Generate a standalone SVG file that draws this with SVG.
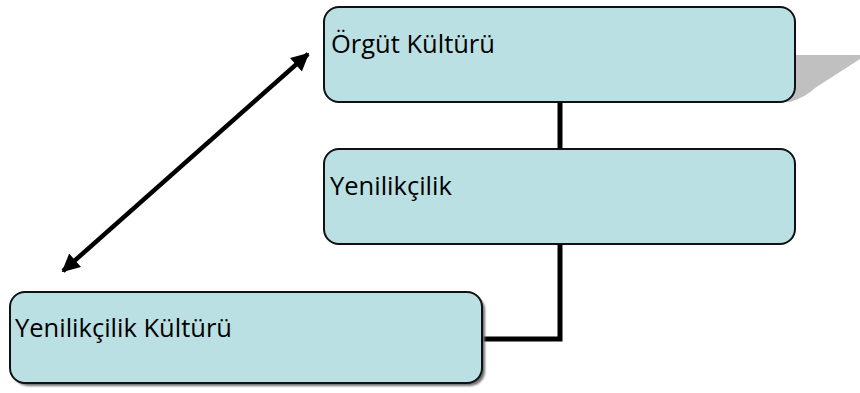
<svg xmlns="http://www.w3.org/2000/svg" width="860" height="393" viewBox="0 0 860 393">
<defs>
<style>
.box{fill:#BAE0E3;stroke:#111;stroke-width:2}
.lbl{font-family:"Open Sans","Noto Sans",sans-serif;font-size:25.5px;fill:#000}
.conn{fill:none;stroke:#000;stroke-width:5}
</style>
<marker id="ah" viewBox="0 0 10 10" refX="9" refY="5" markerWidth="4" markerHeight="4" orient="auto-start-reverse" markerUnits="strokeWidth">
<path d="M0,0 L10,5 L0,10 Z" fill="#000"/>
</marker>
<filter id="sh" x="-5%" y="-5%" width="115%" height="120%">
<feGaussianBlur stdDeviation="1"/>
</filter>
</defs>
<g id="connectors">
<polyline class="conn" points="560,102 560,149"/>
<polyline class="conn" points="560,244 560,339 482,339"/>
<line x1="63" y1="271" x2="308" y2="54" stroke="#000" stroke-width="4.5" marker-start="url(#ah)" marker-end="url(#ah)"/>
</g>
<g id="node-orgut">
<path d="M780,55 L860,55 L860,59 L815,88 Q806,97 790,102 L780,102 Z" fill="#C0C0C0"/>
<rect class="box" x="324" y="7" width="471" height="95" rx="15"/>
<text class="lbl" x="331" y="53">Örgüt Kültürü</text>
</g>
<g id="node-yenilikcilik">
<rect class="box" x="324" y="149" width="471" height="95" rx="15"/>
<text class="lbl" x="330" y="195">Yenilikçilik</text>
</g>
<g id="node-yenilikcilik-kulturu">
<rect x="13" y="295" width="472" height="91" rx="15" fill="#707070" filter="url(#sh)"/>
<rect class="box" x="10" y="292" width="472" height="91" rx="15"/>
<text class="lbl" x="15" y="337">Yenilikçilik Kültürü</text>
</g>
</svg>
